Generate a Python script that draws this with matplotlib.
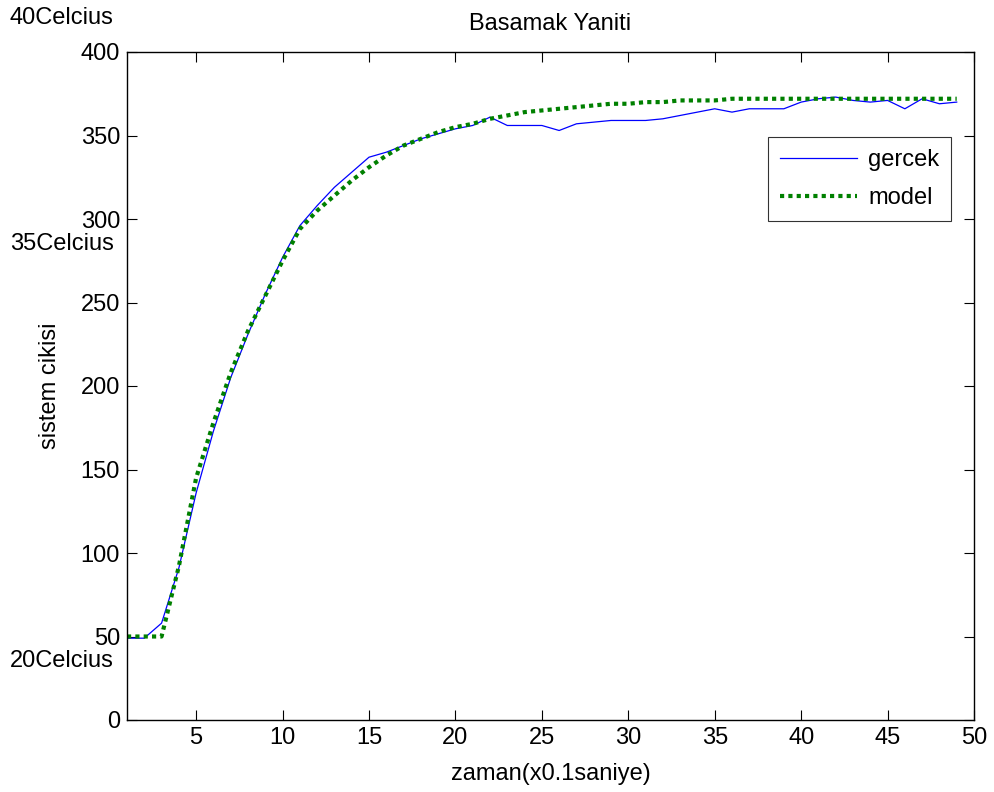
import matplotlib
matplotlib.use("Agg")
import matplotlib.pyplot as plt

plt.rcParams['font.family'] = ['Liberation Sans', 'DejaVu Sans']

t = list(range(1, 50))
gercek = [49, 49, 58, 91, 136, 173, 205, 231, 255, 277, 296, 308, 319, 328, 337,
          340, 344, 348, 351, 354, 356, 361, 356, 356, 356, 353, 357, 358, 359, 359,
          359, 360, 362, 364, 366, 364, 366, 366, 366, 370, 372, 373, 371, 370, 371,
          366, 372, 369, 370]
model = [50, 50, 50, 92, 145, 178, 208, 233, 254, 275, 294, 305, 314, 323, 331,
         338, 344, 348, 352, 355, 357, 360, 362, 364, 365, 366, 367, 368, 369, 369,
         370, 370, 371, 371, 371, 372, 372, 372, 372, 372, 372, 372, 372, 372, 372,
         372, 372, 372, 372]
xticks = [5, 10, 15, 20, 25, 30, 35, 40, 45, 50]
yticks = [0, 50, 100, 150, 200, 250, 300, 350, 400]

FS = 17
W, H = 994, 792
fig = plt.figure(figsize=(W / 100, H / 100), dpi=100)
L, R, T, B = 127, 974, 52, 720
ax = fig.add_axes([L / W, 1 - B / H, (R - L) / W, (B - T) / H])

ax.plot(t, gercek, color=(0, 0, 1), lw=0.9, label='gercek')
ax.plot(t, model, color=(0, 0.5, 0), lw=3, ls=(0, (1, 1)), label='model')

ax.set_xlim(1, 50)
ax.set_ylim(0, 400)
ax.set_xticks(xticks)
ax.set_yticks(yticks)
ax.tick_params(direction='in', length=7, width=0.8, labelsize=FS, top=True, right=True,
               labeltop=False, labelright=False, colors='black', pad=5)
for s in ax.spines.values():
    s.set_linewidth(1.0)

ax.set_title('Basamak Yaniti', fontsize=FS, pad=16)
ax.set_xlabel('zaman(x0.1saniye)', fontsize=FS, labelpad=10)
ax.set_ylabel('sistem cikisi', fontsize=FS, labelpad=14)

leg = ax.legend(loc='upper right', bbox_to_anchor=((951 - L) / (R - L), (B - 137) / (B - T)),
                fontsize=FS, frameon=True, fancybox=False, edgecolor='black',
                handlelength=3.3, handletextpad=0.45, borderpad=0.5, labelspacing=0.7,
                borderaxespad=0)
leg.get_frame().set_linewidth(0.8)

fig.text(10 / W, 1 - 18 / H, '40Celcius', fontsize=FS, ha='left', va='center')
fig.text(10 / W, 1 - 244 / H, '35Celcius', fontsize=FS, ha='left', va='center')
fig.text(10 / W, 1 - 661 / H, '20Celcius', fontsize=FS, ha='left', va='center')

fig.savefig('out.png', dpi=100)
